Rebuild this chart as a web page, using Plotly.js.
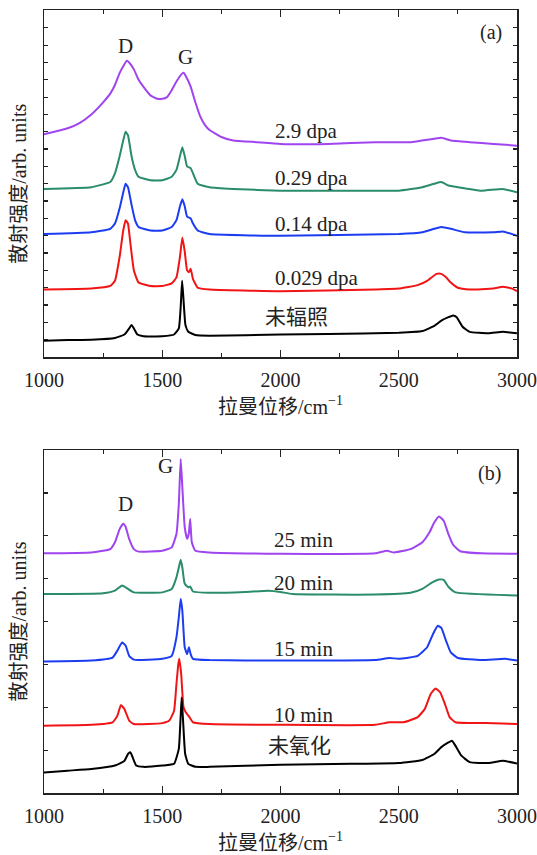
<!DOCTYPE html>
<html>
<head>
<meta charset="utf-8">
<script src="https://cdn.plot.ly/plotly-3.0.1.min.js"></script>
<style>html,body{margin:0;padding:0;background:#fff;}#chart{width:537px;height:855px;}</style>
</head>
<body>
<div id="chart"></div>
<script>
// ---------- Panel (a): irradiation dose ----------
const a_labels = ['2.9 dpa', '0.29 dpa', '0.14 dpa', '0.029 dpa', '未辐照'];

const a1_x = [1000,1100,1150,1200,1250,1280,1300,1320,1340,1350,1360,1380,1400,1420,1450,1480,1500,1520,1540,1560,1580,1590,1600,1620,1640,1660,1680,1700,1750,1800,1900,2000,2200,2400,2550,2650,2680,2720,2800,2900,3000];
const a1_y = [12.85,13.2,13.5,14.0,14.7,15.2,15.7,16.4,16.9,17.1,17.0,16.6,16.0,15.6,15.1,14.9,14.9,15.0,15.4,15.9,16.3,16.4,16.2,15.6,14.7,13.9,13.4,13.1,12.7,12.5,12.4,12.3,12.3,12.4,12.4,12.6,12.65,12.5,12.4,12.3,12.2];

const a2_x = [1000,1200,1280,1300,1320,1335,1345,1355,1370,1385,1400,1450,1500,1540,1560,1575,1585,1595,1605,1620,1630,1650,1700,1800,2000,2300,2500,2600,2650,2680,2710,2750,2850,2940,3000];
const a2_y = [9.7,9.8,10.1,10.6,11.6,12.5,13.0,12.8,11.6,10.8,10.4,10.2,10.2,10.4,10.8,11.6,12.1,11.6,11.0,10.9,10.6,10.0,9.8,9.7,9.6,9.6,9.6,9.8,10.0,10.1,9.9,9.8,9.6,9.7,9.5];

const a3_x = [1000,1200,1280,1300,1320,1335,1345,1355,1370,1385,1400,1450,1500,1540,1560,1575,1585,1595,1605,1620,1630,1650,1700,2000,2500,2600,2650,2680,2720,2780,2900,2940,3000];
const a3_y = [7.1,7.2,7.4,7.7,8.6,9.5,10.0,9.8,8.8,7.9,7.5,7.3,7.3,7.5,7.9,8.7,9.1,8.7,8.1,8.0,7.7,7.3,7.1,7.0,7.1,7.2,7.4,7.5,7.4,7.2,7.2,7.25,7.0];

const a4_x = [1000,1200,1280,1300,1320,1335,1345,1355,1365,1380,1400,1450,1500,1540,1560,1575,1585,1595,1605,1613,1620,1630,1650,1700,2000,2400,2500,2580,2620,2660,2680,2700,2720,2750,2800,2900,2940,2980,3000];
const a4_y = [3.9,3.95,4.1,4.4,5.8,7.3,7.9,7.7,6.6,5.0,4.3,4.1,4.1,4.25,4.6,5.8,6.9,6.1,5.0,4.9,5.1,4.5,4.0,3.9,3.8,3.9,3.95,4.15,4.4,4.8,4.8,4.6,4.3,4.0,3.9,3.95,4.05,3.95,3.8];

const a5_x = [1000,1100,1200,1300,1340,1360,1370,1380,1395,1420,1500,1550,1570,1578,1584,1590,1598,1610,1640,1700,2000,2200,2500,2600,2650,2680,2710,2730,2745,2770,2800,2880,2940,3000];
const a5_y = [0.94,0.98,1.0,1.1,1.3,1.65,1.85,1.65,1.3,1.2,1.2,1.3,1.65,2.9,4.4,3.3,1.85,1.46,1.27,1.23,1.3,1.33,1.4,1.5,1.8,2.1,2.3,2.4,2.3,1.75,1.45,1.37,1.46,1.37];

// ---------- Panel (b): oxidation time ----------
const b_labels = ['25 min', '20 min', '15 min', '10 min', '未氧化'];

const b1_x = [1000,1200,1280,1300,1320,1335,1345,1360,1380,1400,1500,1540,1560,1570,1578,1585,1595,1605,1612,1618,1625,1640,1700,2000,2400,2450,2480,2550,2600,2630,2650,2670,2690,2710,2730,2760,2850,3000];
const b1_y = [5.59,5.61,5.69,5.85,6.16,6.28,6.21,5.93,5.69,5.63,5.65,5.73,6.04,6.74,7.79,7.13,6.2,5.93,6.04,6.39,5.85,5.65,5.61,5.58,5.59,5.65,5.61,5.69,5.85,6.08,6.31,6.45,6.35,6.04,5.79,5.64,5.59,5.58];

const b2_x = [1000,1250,1300,1330,1350,1380,1500,1540,1560,1570,1578,1585,1595,1610,1618,1630,1700,1850,1950,2000,2050,2400,2550,2600,2640,2670,2690,2710,2740,3000];
const b2_y = [4.64,4.66,4.72,4.84,4.78,4.68,4.68,4.76,5.03,5.26,5.44,5.26,4.88,4.8,4.82,4.7,4.67,4.69,4.72,4.69,4.64,4.63,4.67,4.76,4.91,4.98,4.97,4.81,4.68,4.61];

const b3_x = [1000,1200,1290,1310,1330,1345,1360,1380,1500,1540,1560,1570,1578,1585,1595,1605,1613,1620,1630,1700,2000,2400,2460,2500,2580,2620,2645,2665,2680,2700,2720,2750,2850,2950,3000];
const b3_y = [3.07,3.09,3.16,3.32,3.51,3.44,3.2,3.11,3.13,3.2,3.63,4.1,4.53,4.25,3.4,3.24,3.4,3.24,3.13,3.1,3.09,3.1,3.15,3.13,3.2,3.4,3.71,3.9,3.85,3.55,3.28,3.15,3.1,3.13,3.09];

const b4_x = [1000,1200,1290,1310,1325,1340,1360,1380,1500,1530,1550,1560,1568,1572,1580,1590,1600,1615,1630,1700,2000,2400,2460,2520,2580,2610,2635,2655,2675,2695,2715,2740,2900,3000];
const b4_y = [1.57,1.59,1.65,1.8,2.05,1.96,1.69,1.61,1.63,1.69,1.92,2.54,3.01,3.13,2.78,2.0,1.88,1.77,1.65,1.61,1.59,1.59,1.65,1.65,1.77,1.96,2.31,2.44,2.35,2.08,1.77,1.65,1.63,1.61];

const b5_x = [1000,1100,1200,1300,1340,1355,1365,1375,1390,1420,1500,1550,1570,1577,1582,1588,1597,1610,1640,1700,2000,2300,2500,2600,2650,2680,2710,2725,2740,2765,2800,2880,2940,3000];
const b5_y = [0.48,0.52,0.56,0.64,0.75,0.91,0.95,0.83,0.64,0.61,0.64,0.68,1.03,1.69,2.23,1.69,0.91,0.68,0.61,0.61,0.66,0.68,0.7,0.77,0.91,1.07,1.18,1.22,1.1,0.87,0.72,0.7,0.75,0.69];

const colors = ['#a044f0', '#2a8c6c', '#1c3cf2', '#f01414', '#000000'];

const aX = [a1_x, a2_x, a3_x, a4_x, a5_x];
const aY = [a1_y, a2_y, a3_y, a4_y, a5_y];
const bX = [b1_x, b2_x, b3_x, b4_x, b5_x];
const bY = [b1_y, b2_y, b3_y, b4_y, b5_y];

const traces = [];
for (let i = 0; i < 5; i++) {
  traces.push({x: aX[i], y: aY[i], name: a_labels[i], type: 'scatter', mode: 'lines',
    line: {color: colors[i], width: 2, shape: 'spline', smoothing: 0.4}, xaxis: 'x', yaxis: 'y', hoverinfo: 'skip'});
}
for (let i = 0; i < 5; i++) {
  traces.push({x: bX[i], y: bY[i], name: b_labels[i], type: 'scatter', mode: 'lines',
    line: {color: colors[i], width: 2, shape: 'spline', smoothing: 0.4}, xaxis: 'x2', yaxis: 'y2', hoverinfo: 'skip'});
}

const serif = 'Liberation Serif, Noto Sans CJK SC, serif';
const mixed = 'Liberation Serif, Noto Sans CJK SC, sans-serif';

function xax(anchor) {
  return {
    range: [1000, 3000], anchor: anchor, domain: [0, 1],
    showline: true, linecolor: '#222', linewidth: 1.5, mirror: 'ticks',
    ticks: 'inside', ticklen: 7, tickwidth: 1.2, tickcolor: '#222',
    dtick: 500, tick0: 1000, showgrid: false, zeroline: false,
    minor: {ticks: 'inside', ticklen: 4, dtick: 250, tick0: 1000, tickcolor: '#222', tickwidth: 1.2, showgrid: false},
    tickfont: {family: serif, size: 20, color: '#222'},
    ticklabelstandoff: 4,
    title: {text: '拉曼位移/cm<sup>−1</sup>', font: {family: mixed, size: 20, color: '#222'}, standoff: 10}
  };
}
function yax(anchor, domain, maxv) {
  return {
    range: [0, maxv], anchor: anchor, domain: domain,
    showline: true, linecolor: '#222', linewidth: 1.5, mirror: 'ticks',
    ticks: 'inside', ticklen: 4, tickwidth: 1.2, tickcolor: '#222', dtick: 1, tick0: 0,
    showticklabels: false, showgrid: false, zeroline: false,
    title: {text: '散射强度/arb. units', font: {family: mixed, size: 20, color: '#222'}, standoff: 10}
  };
}

const annots = [];
const ax = [1970, 1970, 1970, 1970, 1924];
const ay = [13.04, 10.33, 7.67, 4.56, 2.3];
for (let i = 0; i < 5; i++) {
  annots.push({x: ax[i], y: ay[i], xref: 'x', yref: 'y', text: a_labels[i], showarrow: false,
    xanchor: 'left', yanchor: 'middle', font: {family: mixed, size: 21, color: '#222'}});
}
const bxp = [1963, 1963, 1963, 1963, 1937];
const byp = [5.89, 4.91, 3.35, 1.83, 1.09];
for (let i = 0; i < 5; i++) {
  annots.push({x: bxp[i], y: byp[i], xref: 'x2', yref: 'y2', text: b_labels[i], showarrow: false,
    xanchor: 'left', yanchor: 'middle', font: {family: mixed, size: 21, color: '#222'}});
}
annots.push({x: 1344, y: 17.95, xref: 'x', yref: 'y', text: 'D', showarrow: false, font: {family: serif, size: 21, color: '#222'}});
annots.push({x: 1600, y: 17.3, xref: 'x', yref: 'y', text: 'G', showarrow: false, font: {family: serif, size: 21, color: '#222'}});
annots.push({x: 2892, y: 18.75, xref: 'x', yref: 'y', text: '(a)', showarrow: false, font: {family: serif, size: 20, color: '#222'}});
annots.push({x: 1345, y: 6.75, xref: 'x2', yref: 'y2', text: 'D', showarrow: false, font: {family: serif, size: 21, color: '#222'}});
annots.push({x: 1512, y: 7.63, xref: 'x2', yref: 'y2', text: 'G', showarrow: false, font: {family: serif, size: 21, color: '#222'}});
annots.push({x: 2882, y: 7.45, xref: 'x2', yref: 'y2', text: '(b)', showarrow: false, font: {family: serif, size: 20, color: '#222'}});

const layout = {
  width: 537, height: 855,
  margin: {l: 44, r: 20, t: 10, b: 62},
  paper_bgcolor: '#fff', plot_bgcolor: '#fff',
  showlegend: false,
  xaxis: xax('y'),
  yaxis: yax('x', [0.5568, 0.9994], 20),
  xaxis2: xax('y2'),
  yaxis2: yax('x2', [0, 0.438], 8),
  annotations: annots
};

Plotly.newPlot('chart', traces, layout, {staticPlot: true, displayModeBar: false});
</script>
</body>
</html>
